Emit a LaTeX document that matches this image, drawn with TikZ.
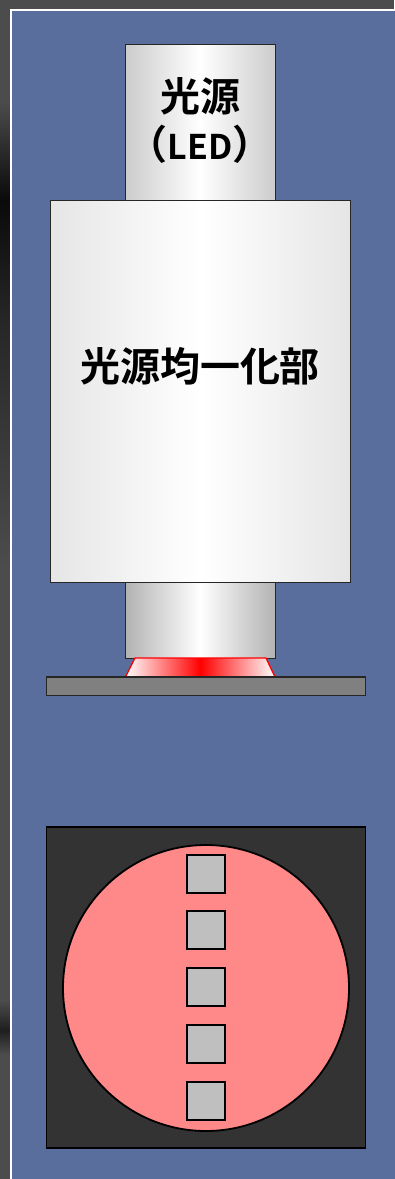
\documentclass[tikz,border=0pt]{standalone}
\usepackage{fontspec}
\setmainfont{Noto Sans CJK JP Bold}
\usetikzlibrary{positioning}
\definecolor{panelblue}{RGB}{89,110,156}
\definecolor{chipred}{RGB}{255,136,136}
\tikzset{
  lens/.style={draw=black!85, line width=0.9pt, left color=#1, right color=#1, middle color=white},
  mixer/.style={draw=black!85, line width=0.9pt, left color=black!10, right color=black!10, middle color=white},
  chip/.style={draw=black, line width=1.8pt, fill=black!25},
  label/.style={font=\fontsize{40}{48}\selectfont, align=center, text=black, inner sep=0pt},
}

\begin{document}
\begin{tikzpicture}[x=1pt, y=-1pt]
    \useasboundingbox (0,0) rectangle (394,1179);

    % backdrop
    \fill[black!70] (0,0) rectangle (394,1179);
    \shade[top color=black!70, bottom color=black!96] (0,100) rectangle (10,200);
    \shade[top color=black!96, bottom color=black!85] (0,200) rectangle (10,320);
    \shade[top color=black!85, bottom color=black!70] (0,320) rectangle (10,570);
    \shade[top color=black!70, bottom color=black!88] (0,1000) rectangle (10,1030);
    \shade[top color=black!88, bottom color=black!70] (0,1030) rectangle (10,1055);
    \draw[white, line width=2pt, fill=panelblue] (11,10) rectangle (400,1185);

    % optical column
    \draw[lens=black!20] (125.5,44) rectangle (275,200);
    \draw[lens=black!30] (125.5,582) rectangle (275,658);
    \draw[draw=red, line width=1.3pt, left color=white, right color=white, middle color=red]
      (135,658) -- (266,658) -- (275,677) -- (125.5,677) -- cycle;
    \draw[mixer] (50.5,200) rectangle (350.5,582);
    \draw[draw=black!85, line width=1.1pt, fill=black!50] (46.5,677) rectangle (365.5,695.5);

    \node[label] (source) at (200,120) {光源\\（{\fontsize{34}{48}\selectfont LED}）};
    \node[label] (mixing) at (200,366) {光源均一化部};

    % spot on the sample
    \draw[line width=1.8pt, fill=black!80] (46.5,827) rectangle (365.5,1148);
    \draw[line width=1.8pt, fill=chipred] (206,988) circle (143);
    \foreach \y in {874, 930, 987, 1044, 1101} {
      \draw[chip] (187,\y-19) rectangle (225,\y+19);
    }
\end{tikzpicture}
\end{document}
